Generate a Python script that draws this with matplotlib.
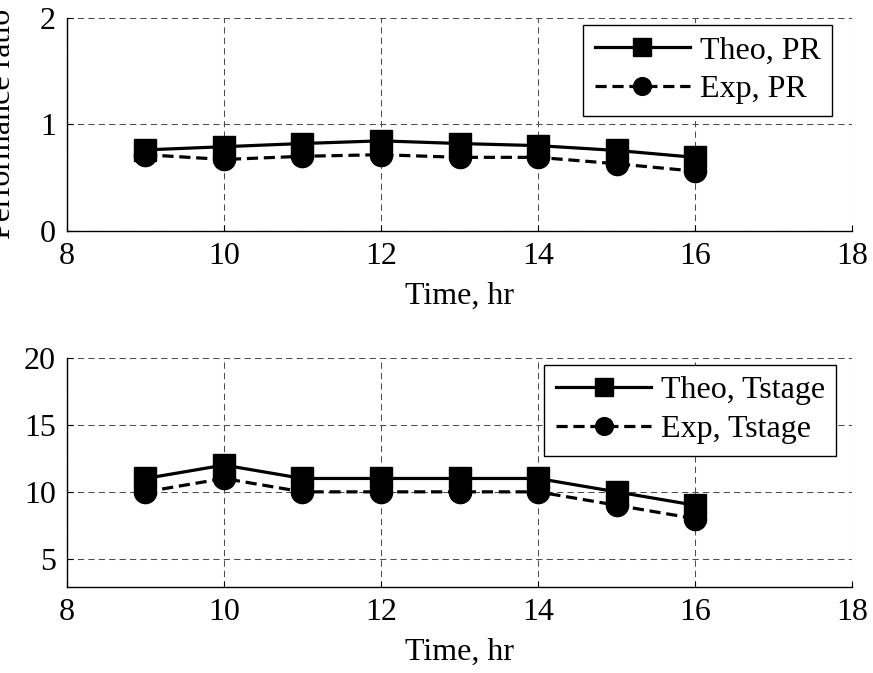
import numpy as np
import matplotlib
matplotlib.use('Agg')
import matplotlib.pyplot as plt

# data
hours = [9, 10, 11, 12, 13, 14, 15, 16]
theo_pr = [0.76, 0.79, 0.82, 0.845, 0.82, 0.80, 0.755, 0.69]
exp_pr = [0.715, 0.67, 0.70, 0.715, 0.69, 0.69, 0.63, 0.56]
theo_tstage = [11, 12, 11, 11, 11, 11, 10, 9]
exp_tstage = [10, 11, 10, 10, 10, 10, 9, 8]

plt.rcParams['font.family'] = ['Liberation Serif', 'DejaVu Serif']
plt.rcParams['font.size'] = 23

fig = plt.figure(figsize=(8.73, 6.73), dpi=100)
ax1 = fig.add_axes([0.0767, 0.657, 0.8993, 0.3165])
ax2 = fig.add_axes([0.0767, 0.128, 0.8993, 0.340])


def style(ax, ylim, yticks):
  ax.set_xlim(8, 18)
  ax.set_xticks([8, 10, 12, 14, 16, 18])
  ax.set_ylim(*ylim)
  ax.set_yticks(yticks)
  ax.grid(True, color='0.3', linestyle=(0, (6, 4)), linewidth=0.75)
  for s in ['top', 'right']:
    ax.spines[s].set_visible(False)
  for s in ['left', 'bottom']:
    ax.spines[s].set_linewidth(1.0)
  ax.tick_params(direction='in', length=4, width=0.8, pad=8)
  ax.set_xlabel('Time, hr', labelpad=8)


def draw(ax, x, theo, exp, lab1, lab2, anchor):
  ax.plot(x, theo, '-', color='black', lw=2.3, marker='s', ms=16,
          label=lab1)
  ax.plot(x, exp, color='black', lw=2.3, linestyle=(0, (3.5, 1.8)),
          marker='o', ms=16, label=lab2)
  leg = ax.legend(loc='upper right', bbox_to_anchor=anchor,
                  borderaxespad=0, fancybox=False, framealpha=1,
                  edgecolor='black', handlelength=3.0, markerscale=0.8,
                  labelspacing=0.3, borderpad=0.35, handletextpad=0.3)
  leg.get_frame().set_linewidth(1.0)


draw(ax1, hours, theo_pr, exp_pr, 'Theo, PR', 'Exp, PR', (0.9745, 0.967))
style(ax1, (0, 2), [0, 1, 2])
# label is partly off the canvas in the reference too
ax1.set_ylabel('Performance ratio')
ax1.yaxis.set_label_coords(-0.063, 0.5)

draw(ax2, hours, theo_tstage, exp_tstage, 'Theo, Tstage', 'Exp, Tstage',
     (0.98, 0.97))
style(ax2, (2.9, 20), [5, 10, 15, 20])

fig.savefig('out.png', dpi=100)
